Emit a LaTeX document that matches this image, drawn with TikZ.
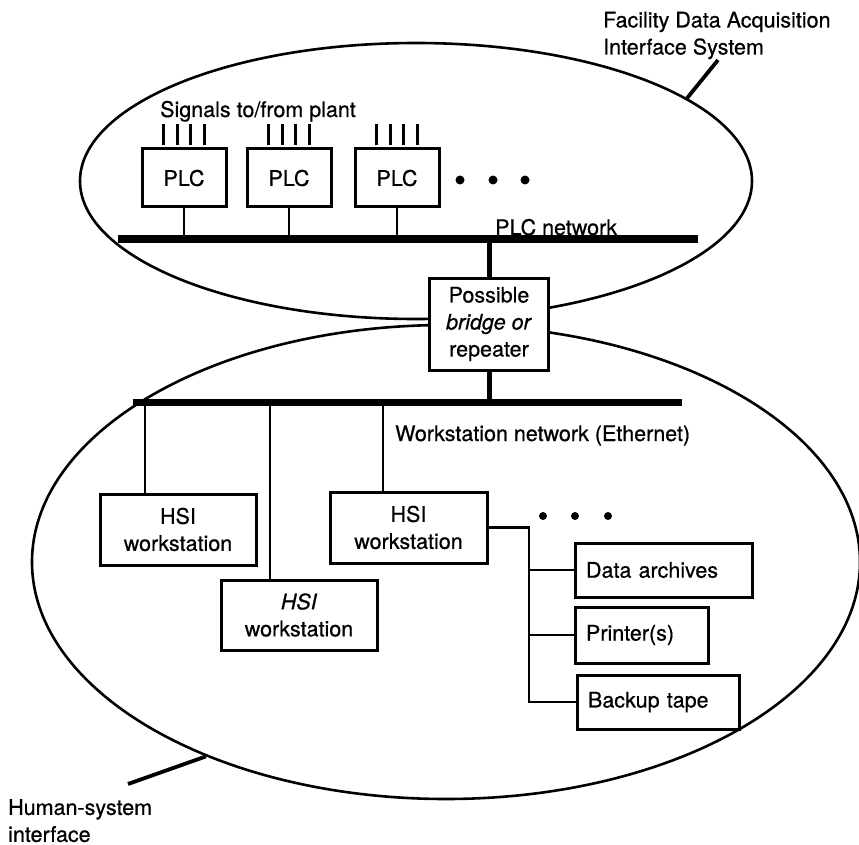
\documentclass[tikz,border=0pt]{standalone}
\usepackage{fontspec}
\setmainfont{TeX Gyre Heros}[FakeBold=0.6]
\usetikzlibrary{shapes.geometric,calc}
\begin{document}
\begin{tikzpicture}[x=1pt,y=-1pt,
  every node/.style={font=\fontsize{21.5}{27}\selectfont},
  box/.style={draw, line width=3pt, fill=white, inner sep=0pt, align=center},
  tbox/.style={box, align=left, inner xsep=11pt, inner ysep=0pt, minimum height=54pt},
  conn/.style={line width=2.8pt},
  sigline/.style={line width=3pt},
  bus/.style={line width=8pt},
  wsbus/.style={line width=7pt},
  link/.style={line width=5pt},
  leader/.style={line width=3.8pt},
  ell/.style={draw, ellipse, line width=2.6pt, inner sep=0pt},
  lbl/.style={inner sep=0pt},
  dot/.style={circle, fill=black, inner sep=0pt, minimum size=9pt}]
\useasboundingbox (0,0) rectangle (859,845);

% enclosing ellipses
\node[ell, minimum width=672pt, minimum height=276pt] (fdaisEll) at (416,181) {};
\node[ell, minimum width=828pt, minimum height=474pt] (hsiEll) at (446,562) {};

% leaders and labels
\node[lbl, anchor=north west, align=left] (fdais) at (603,11.6) {Facility Data Acquisition\\Interface System};
\coordinate (fdaisLead) at (718,60);
\draw[leader] (fdaisEll.17.5) -- (fdaisLead);
\node[lbl, anchor=north west, align=left] (hsiLbl) at (8,799) {Human-system\\interface};
\coordinate (hsiLead) at (128,784);
\draw[leader] (hsiEll.219) -- (hsiLead);

% PLC level
\coordinate (plcbusL) at (118,239);
\coordinate (plcbusR) at (698,239);
\node[box, minimum width=84pt, minimum height=58pt] (plc1) at (184,178) {PLC};
\node[box, minimum width=84pt, minimum height=58pt] (plc2) at (289,178) {PLC};
\node[box, minimum width=84pt, minimum height=58pt] (plc3) at (397,178) {PLC};
\foreach \p in {plc1,plc2,plc3}{
  \foreach \d in {-20.5,-6.8,6.8,20.5}
    \draw[sigline] ([xshift=\d pt,yshift=2pt]\p.north) -- ++(0,-21);
  \draw[conn] (\p.south) -- (\p.south |- plcbusL);
}
\node[lbl, anchor=base west] (sig) at (160,117) {Signals to/from plant};
\node[dot] (pd1) at (460,180) {};
\node[dot] (pd2) at (493,180) {};
\node[dot] (pd3) at (525,180) {};
\node[lbl, anchor=base west] (plcnet) at (495,235) {PLC network};

% bridge
\coordinate (wsbusL) at (133,402);
\coordinate (wsbusR) at (682,402);
\node[box, minimum width=119pt, minimum height=92pt] (bridge) at (489,324) {Possible\\\textit{bridge or}\\repeater};
\draw[link] (bridge.north) -- (bridge.north |- plcbusL);
\draw[link] (bridge.south) -- (bridge.south |- wsbusL);
\draw[bus] (plcbusL) -- (plcbusR);

% workstation level
\node[lbl, anchor=base west] (wsnet) at (395,441) {Workstation network (Ethernet)};
\node[box, minimum width=156pt, minimum height=71pt] (hsi1) at (178,529.5) {HSI\\workstation};
\node[box, minimum width=156pt, minimum height=70pt] (hsi2) at (299,615) {\textit{HSI}\\workstation};
\node[box, minimum width=157pt, minimum height=71pt] (hsi3) at (408.5,527.5) {HSI\\workstation};
\draw[conn] ([xshift=-33pt]hsi1.north) -- ([xshift=-33pt]hsi1.north |- wsbusL);
\draw[conn] ([xshift=-29pt]hsi2.north) -- ([xshift=-29pt]hsi2.north |- wsbusL);
\draw[conn] ([xshift=-25.5pt]hsi3.north) -- ([xshift=-25.5pt]hsi3.north |- wsbusL);
\draw[wsbus] (wsbusL) -- (wsbusR);

% peripherals
\node[tbox, text width=155pt] (arch) at (663.5,570) {Data archives};
\node[tbox, text width=111pt, minimum height=56pt] (prn) at (641.5,635) {Printer(s)};
\node[tbox, text width=140pt] (tape) at (658,702) {Backup tape};
\coordinate (tree) at (529,527.5);
\draw[conn] (hsi3.east) -- (tree) -- (tree |- tape.west) -- (tape.west);
\draw[conn] (tree |- arch.west) -- (arch.west);
\draw[conn] (tree |- prn.west) -- (prn.west);
\node[dot, minimum size=8pt] (td1) at (543,516) {};
\node[dot, minimum size=8pt] (td2) at (575,516) {};
\node[dot, minimum size=8pt] (td3) at (608,516) {};
\end{tikzpicture}
\end{document}
